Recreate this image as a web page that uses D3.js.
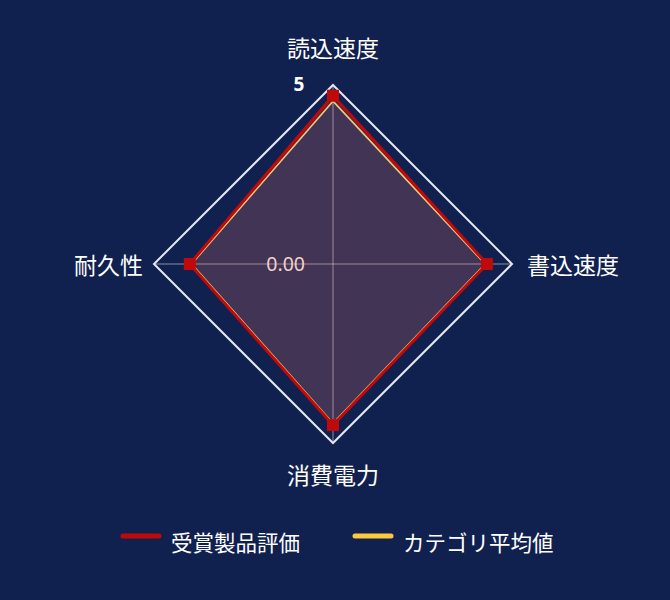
<!DOCTYPE html>
<html>
<head>
<meta charset="utf-8">
<script src="https://cdn.jsdelivr.net/npm/d3@7"></script>
<style>
  html, body { margin: 0; padding: 0; background: #11214f; }
  svg { display: block; font-family: "Noto Sans", "Noto Sans CJK JP", sans-serif; }
</style>
</head>
<body>
<div id="chart"></div>
<script>
const axes = ['読込速度', '書込速度', '消費電力', '耐久性'];
const awardScores = [4.7, 4.3, 4.5, 4.0];
const categoryAvg = [4.55, 4.25, 4.45, 3.95];
const seriesNames = ['受賞製品評価', 'カテゴリ平均値'];
const seriesColors = ['#c00a0a', '#ffc83a'];
const maxValue = 5;

function drawRadar() {
    const width = 670, height = 600;
    const cx = 333, cy = 264, radius = 179;

    const svg = d3.select('#chart')
        .append('svg')
        .attr('width', width)
        .attr('height', height);

    svg.append('rect')
        .attr('width', width).attr('height', height)
        .attr('fill', '#11214f');

    const r = d3.scaleLinear().domain([0, maxValue]).range([0, radius]);
    const angle = d3.scalePoint().domain(axes).range([0, 2 * Math.PI * (axes.length - 1) / axes.length]);

    const pt = (name, v) => {
        const a = angle(name) - Math.PI / 2;
        return [cx + r(v) * Math.cos(a), cy + r(v) * Math.sin(a)];
    };

    const g = svg.append('g');

    // axis lines
    g.selectAll('line.axis')
        .data(axes)
        .enter()
        .append('line')
        .attr('x1', cx).attr('y1', cy)
        .attr('x2', d => pt(d, maxValue)[0])
        .attr('y2', d => pt(d, maxValue)[1])
        .attr('stroke', 'rgba(255,255,255,0.25)')
        .attr('stroke-width', 2);

    const lineGen = d3.line().curve(d3.curveLinearClosed);

    // series polygons
    const series = [
        { name: seriesNames[1], values: categoryAvg, color: '#f3c878', fill: 'rgba(255,190,120,0.07)', w: 1.6 },
        { name: seriesNames[0], values: awardScores, color: seriesColors[0], fill: 'rgba(230,100,100,0.17)', w: 3 }
    ];

    g.selectAll('path.fill')
        .data(series)
        .enter()
        .append('path')
        .attr('d', s => lineGen(axes.map((a, i) => pt(a, s.values[i]))))
        .attr('fill', s => s.fill)
        .attr('stroke', 'none');

    // outer grid ring
    g.append('path')
        .attr('d', lineGen(axes.map(a => pt(a, maxValue))))
        .attr('fill', 'none')
        .attr('stroke', '#e6e8f0')
        .attr('stroke-width', 2);

    g.selectAll('path.line')
        .data(series)
        .enter()
        .append('path')
        .attr('d', s => lineGen(axes.map((a, i) => pt(a, s.values[i]))))
        .attr('fill', 'none')
        .attr('stroke', s => s.color)
        .attr('stroke-width', s => s.w)
        .attr('stroke-linejoin', 'miter');

    // markers for award series
    g.selectAll('rect.marker')
        .data(axes.map((a, i) => pt(a, awardScores[i])))
        .enter()
        .append('rect')
        .attr('x', d => d[0] - 6)
        .attr('y', d => d[1] - 6)
        .attr('width', 12).attr('height', 12)
        .attr('fill', seriesColors[0]);

    // scale labels
    svg.append('text')
        .attr('x', cx - 34).attr('y', cy - r(maxValue) + 6)
        .attr('text-anchor', 'middle')
        .attr('fill', '#ffffff')
        .attr('font-size', 19)
        .attr('font-weight', 'bold')
        .text(String(maxValue));

    svg.append('text')
        .attr('x', cx - 28).attr('y', cy + 7)
        .attr('text-anchor', 'end')
        .attr('fill', '#f2d2c8')
        .attr('font-size', 19.5)
        .text((0).toFixed(2));

    // axis names
    const labelPos = [
        { dx: 0, dy: -28, anchor: 'middle' },
        { dx: 15, dy: 10, anchor: 'start' },
        { dx: 0, dy: 41, anchor: 'middle' },
        { dx: -11, dy: 10, anchor: 'end' }
    ];
    svg.selectAll('text.axisName')
        .data(axes)
        .enter()
        .append('text')
        .attr('x', (d, i) => pt(d, maxValue)[0] + labelPos[i].dx)
        .attr('y', (d, i) => pt(d, maxValue)[1] + labelPos[i].dy)
        .attr('text-anchor', (d, i) => labelPos[i].anchor)
        .attr('fill', '#ffffff')
        .attr('font-size', 23)
        .text(d => d);

    // legend
    const legendX = [121, 353];
    const legend = svg.selectAll('g.legend')
        .data(seriesNames)
        .enter()
        .append('g')
        .attr('transform', (d, i) => `translate(${legendX[i]},536)`);
    legend.append('line')
        .attr('x1', 2).attr('x2', 38)
        .attr('y1', 0).attr('y2', 0)
        .attr('stroke', (d, i) => seriesColors[i])
        .attr('stroke-width', 5)
        .attr('stroke-linecap', 'round');
    legend.append('text')
        .attr('x', 50).attr('y', 15)
        .attr('fill', '#ffffff')
        .attr('font-size', 21.5)
        .text(d => d);
}

window.onload = drawRadar;
</script>
</body>
</html>
